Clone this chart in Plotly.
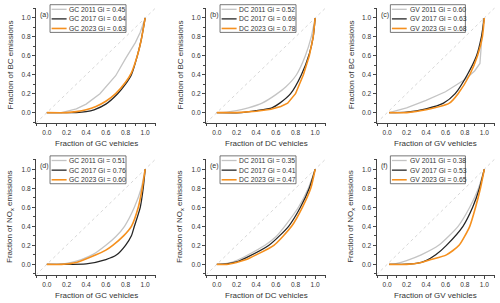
import plotly.graph_objects as go

# ---------------- data ----------------
PANEL_TAGS = ["(a)", "(b)", "(c)", "(d)", "(e)", "(f)"]
YEARS = ["2011", "2017", "2023"]
GROUPS = ["GC", "DC", "GV", "GC", "DC", "GV"]
GINI_A = ["0.45", "0.64", "0.63"]
GINI_B = ["0.52", "0.69", "0.78"]
GINI_C = ["0.60", "0.63", "0.68"]
GINI_D = ["0.51", "0.76", "0.60"]
GINI_E = ["0.35", "0.41", "0.47"]
GINI_F = ["0.38", "0.53", "0.65"]
X_TITLES = ["Fraction of GC vehicles", "Fraction of DC vehicles", "Fraction of GV vehicles"]
Y_TITLES = ["Fraction of BC emissions", "Fraction of NO<sub>x</sub> emissions"]
TICK_VALS = [0.0, 0.2, 0.4, 0.6, 0.8, 1.0]
TICK_TEXT = ["0.0", "0.2", "0.4", "0.6", "0.8", "1.0"]
AX_RANGE = [-0.11, 1.11]

# (a) GC, BC
A_2011_X = [0, 0.15, 0.3, 0.4, 0.54, 0.6, 0.7, 0.8, 0.9, 0.95, 1.0]
A_2011_Y = [0, 0.0, 0.04, 0.09, 0.2, 0.27, 0.39, 0.57, 0.74, 0.85, 1.0]
A_2017_X = [0, 0.3, 0.4, 0.48, 0.6, 0.72, 0.8, 0.86, 0.92, 0.96, 1.0]
A_2017_Y = [0, 0, 0.01, 0.03, 0.09, 0.2, 0.3, 0.4, 0.6, 0.77, 1.0]
A_2023_X = [0, 0.2, 0.3, 0.4, 0.5, 0.6, 0.7, 0.8, 0.86, 0.92, 0.96, 1.0]
A_2023_Y = [0, 0, 0.01, 0.03, 0.065, 0.12, 0.2, 0.32, 0.42, 0.6, 0.77, 1.0]
# (b) DC, BC
B_2011_X = [0, 0.1, 0.2, 0.32, 0.46, 0.6, 0.7, 0.81, 0.9, 0.96, 1.0]
B_2011_Y = [0, 0.005, 0.02, 0.05, 0.1, 0.19, 0.27, 0.4, 0.6, 0.8, 1.0]
B_2017_X = [0, 0.25, 0.4, 0.56, 0.64, 0.75, 0.86, 0.94, 0.98, 1.0]
B_2017_Y = [0, 0, 0.02, 0.05, 0.1, 0.2, 0.4, 0.62, 0.8, 1.0]
B_2023_X = [0, 0.2, 0.4, 0.55, 0.65, 0.72, 0.8, 0.88, 0.94, 0.98, 1.0]
B_2023_Y = [0, 0, 0.015, 0.035, 0.065, 0.1, 0.2, 0.4, 0.6, 0.8, 1.0]
# (c) GV, BC
C_2011_X = [0.02, 0.1, 0.2, 0.4, 0.6, 0.8, 0.9, 0.955, 0.99]
C_2011_Y = [0, 0.02, 0.05, 0.13, 0.22, 0.35, 0.44, 0.52, 1.0]
C_2017_X = [0.02, 0.2, 0.4, 0.58, 0.7, 0.825, 0.92, 0.97, 1.0]
C_2017_Y = [0, 0.005, 0.04, 0.1, 0.2, 0.4, 0.6, 0.8, 1.0]
C_2023_X = [0.02, 0.2, 0.4, 0.64, 0.73, 0.85, 0.93, 0.98, 1.0]
C_2023_Y = [0, 0, 0.03, 0.1, 0.2, 0.4, 0.6, 0.8, 1.0]
# (d) GC, NOx
D_2011_X = [0, 0.12, 0.25, 0.35, 0.48, 0.6, 0.7, 0.79, 0.89, 0.96, 1.0]
D_2011_Y = [0, 0, 0.02, 0.05, 0.11, 0.2, 0.29, 0.4, 0.6, 0.8, 1.0]
D_2017_X = [0, 0.15, 0.4, 0.6, 0.71, 0.8, 0.86, 0.89, 0.95, 0.98, 1.0]
D_2017_Y = [0, 0, 0.005, 0.05, 0.1, 0.2, 0.3, 0.4, 0.6, 0.8, 1.0]
D_2023_X = [0, 0.15, 0.3, 0.5, 0.6, 0.67, 0.78, 0.86, 0.93, 0.97, 1.0]
D_2023_Y = [0, 0, 0.02, 0.1, 0.15, 0.2, 0.3, 0.4, 0.6, 0.8, 1.0]
# (e) DC, NOx
E_2011_X = [0, 0.1, 0.2, 0.3, 0.49, 0.6, 0.69, 0.83, 0.93, 1.0]
E_2011_Y = [0, 0.01, 0.04, 0.09, 0.2, 0.29, 0.4, 0.6, 0.8, 1.0]
E_2017_X = [0, 0.1, 0.2, 0.3, 0.53, 0.73, 0.85, 0.94, 1.0]
E_2017_Y = [0, 0.005, 0.025, 0.07, 0.2, 0.4, 0.6, 0.8, 1.0]
E_2023_X = [0, 0.1, 0.2, 0.3, 0.4, 0.58, 0.76, 0.87, 0.955, 1.0]
E_2023_Y = [0, 0, 0.02, 0.05, 0.1, 0.2, 0.4, 0.6, 0.8, 1.0]
# (f) GV, NOx
F_2011_X = [0.02, 0.1, 0.2, 0.35, 0.53, 0.73, 0.85, 0.94, 1.0]
F_2011_Y = [0, 0.01, 0.04, 0.1, 0.2, 0.4, 0.6, 0.8, 1.0]
F_2017_X = [0.02, 0.15, 0.3, 0.4, 0.5, 0.61, 0.78, 0.88, 0.95, 1.0]
F_2017_Y = [0, 0, 0.01, 0.04, 0.1, 0.2, 0.4, 0.6, 0.8, 1.0]
F_2023_X = [0.02, 0.2, 0.35, 0.45, 0.61, 0.74, 0.85, 0.91, 0.96, 1.0]
F_2023_Y = [0, 0, 0.02, 0.05, 0.1, 0.2, 0.4, 0.6, 0.8, 1.0]

PANELS = [
    ([A_2011_X, A_2017_X, A_2023_X], [A_2011_Y, A_2017_Y, A_2023_Y], GINI_A),
    ([B_2011_X, B_2017_X, B_2023_X], [B_2011_Y, B_2017_Y, B_2023_Y], GINI_B),
    ([C_2011_X, C_2017_X, C_2023_X], [C_2011_Y, C_2017_Y, C_2023_Y], GINI_C),
    ([D_2011_X, D_2017_X, D_2023_X], [D_2011_Y, D_2017_Y, D_2023_Y], GINI_D),
    ([E_2011_X, E_2017_X, E_2023_X], [E_2011_Y, E_2017_Y, E_2023_Y], GINI_E),
    ([F_2011_X, F_2017_X, F_2023_X], [F_2011_Y, F_2017_Y, F_2023_Y], GINI_F),
]
# traces with a sharp corner drawn straight
LINEAR_TRACES = {(0, 0), (2, 0), (1, 2)}

# ---------------- style ----------------
COLORS = ["#c4c4c4", "#262626", "#f5901e"]
WIDTHS = [1.3, 1.3, 1.6]
FONT = "Liberation Sans, Arial, sans-serif"
TXT = "#333333"
COL_DOM = [[0.072, 0.312], [0.412, 0.652], [0.753, 0.990]]
ROW_DOM = [[0.594, 0.975], [0.093, 0.476]]

fig = go.Figure()
shapes = []
annotations = []

for p, (xs, ys, ginis) in enumerate(PANELS):
    r, c = divmod(p, 3)
    n = p + 1
    xa = "x" if n == 1 else f"x{n}"
    ya = "y" if n == 1 else f"y{n}"
    xkey = "xaxis" if n == 1 else f"xaxis{n}"
    ykey = "yaxis" if n == 1 else f"yaxis{n}"

    # 1:1 reference line
    fig.add_trace(go.Scatter(x=AX_RANGE, y=AX_RANGE, xaxis=xa, yaxis=ya, mode="lines",
                             line=dict(color="#d2d2d2", width=0.9, dash="dot"),
                             showlegend=False, hoverinfo="skip"))
    for k in range(3):
        shape = "linear" if (p, k) in LINEAR_TRACES else "spline"
        fig.add_trace(go.Scatter(x=xs[k], y=ys[k], xaxis=xa, yaxis=ya, mode="lines",
                                 line=dict(color=COLORS[k], width=WIDTHS[k], shape=shape,
                                           smoothing=0.6),
                                 name=f"{GROUPS[p]} {YEARS[k]} Gi = {ginis[k]}",
                                 showlegend=False))

    axis_common = dict(range=AX_RANGE, showgrid=False, zeroline=False, showline=True,
                       linecolor="#444444", linewidth=1, ticks="outside", ticklen=3,
                       tickwidth=1, tickcolor="#444444", tickvals=TICK_VALS, ticktext=TICK_TEXT,
                       tickfont=dict(family=FONT, size=6.6, color=TXT), mirror=False,
                       automargin=False,
                       minor=dict(ticks="outside", ticklen=1.8, tickwidth=0.8,
                                  tickcolor="#444444", dtick=0.1))
    fig.layout[xkey] = dict(axis_common, domain=COL_DOM[c], anchor=ya)
    fig.layout[ykey] = dict(axis_common, domain=ROW_DOM[r], anchor=xa)

    xref = f"{xa} domain"
    yref = f"{ya} domain"
    # axis titles
    annotations.append(dict(xref=xref, yref=yref, x=0.5, y=-0.175, xanchor="center",
                            yanchor="middle", showarrow=False, text=X_TITLES[c],
                            font=dict(family=FONT, size=8, color=TXT)))
    annotations.append(dict(xref=xref, yref=yref, x=-0.215, y=0.5, xanchor="center",
                            yanchor="middle", showarrow=False, text=Y_TITLES[r], textangle=-90,
                            font=dict(family=FONT, size=8, color=TXT)))
    # legend box
    shapes.append(dict(type="rect", xref=xref, yref=yref, x0=0.117, x1=0.75, y0=0.785, y1=1.025,
                       line=dict(color="#555555", width=0.8), fillcolor="white", layer="above"))
    for k in range(3):
        yy = 0.985 - k * 0.083
        shapes.append(dict(type="line", xref=xref, yref=yref, x0=0.13, x1=0.255, y0=yy, y1=yy,
                           line=dict(color=COLORS[k], width=WIDTHS[k]), layer="above"))
        annotations.append(dict(xref=xref, yref=yref, x=0.262, y=yy, xanchor="left",
                                yanchor="middle", showarrow=False,
                                text=f"{GROUPS[p]} {YEARS[k]} Gi = {ginis[k]}",
                                font=dict(family=FONT, size=6.8, color=TXT)))
    annotations.append(dict(xref=xref, yref=yref, x=0.02, y=0.935, xanchor="left",
                            yanchor="middle", showarrow=False, text=PANEL_TAGS[p],
                            font=dict(family=FONT, size=7, color=TXT)))

fig.update_layout(width=500, height=303, margin=dict(l=0, r=0, t=0, b=0),
                  paper_bgcolor="white", plot_bgcolor="white", showlegend=False,
                  shapes=shapes, annotations=annotations)
fig.write_html("out.html", config={"displayModeBar": False},
               post_script="document.body.style.margin='0';")
